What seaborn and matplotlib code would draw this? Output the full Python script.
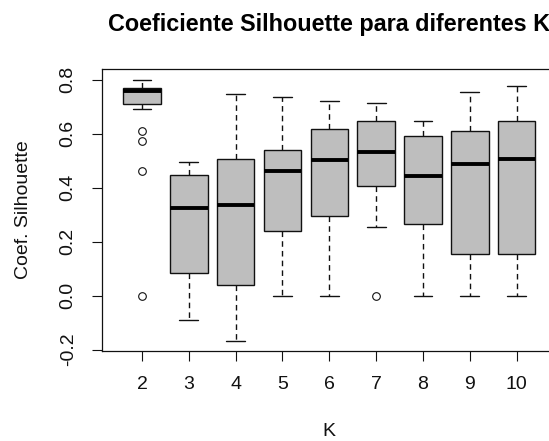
import matplotlib
matplotlib.use("Agg")
import matplotlib.pyplot as plt
import seaborn as sns

# ---- data (five-number summaries per K) ----
k_labels = ["2", "3", "4", "5", "6", "7", "8", "9", "10"]
whisker_low = [0.693, -0.090, -0.167, 0.000, 0.000, 0.253, 0.000, 0.000, 0.000]
q1 = [0.712, 0.084, 0.038, 0.238, 0.297, 0.407, 0.265, 0.154, 0.154]
median = [0.757, 0.323, 0.337, 0.462, 0.502, 0.532, 0.443, 0.488, 0.506]
q3 = [0.769, 0.448, 0.506, 0.538, 0.617, 0.648, 0.590, 0.609, 0.648]
whisker_high = [0.800, 0.497, 0.747, 0.737, 0.723, 0.715, 0.648, 0.754, 0.778]
outliers = [[0.0, 0.462, 0.573, 0.609], [], [], [], [], [0.0], [], [], []]
y_ticks = [-0.2, 0.0, 0.2, 0.4, 0.6, 0.8]
y_tick_labels = ["-0.2", "0.0", "0.2", "0.4", "0.6", "0.8"]

title = "Coeficiente Silhouette para diferentes K"
x_label = "K"
y_label = "Coef. Silhouette"

sns.set_theme(style="white")
plt.rcParams["font.family"] = ["Liberation Sans", "DejaVu Sans"]

fig = plt.figure(figsize=(5.49, 4.41), dpi=100)
ax = fig.add_axes([0.1852, 0.2041, 0.8293, 0.6395])

stats = []
for i, lab in enumerate(k_labels):
    stats.append(dict(label=lab, whislo=whisker_low[i], q1=q1[i], med=median[i],
                      q3=q3[i], whishi=whisker_high[i], fliers=outliers[i]))

positions = list(range(1, len(k_labels) + 1))
ax.bxp(stats, positions=positions, widths=0.8, capwidths=0.4, patch_artist=True,
       boxprops=dict(facecolor="#BEBEBE", edgecolor="#111111", linewidth=1.0),
       medianprops=dict(color="black", linewidth=2.8, solid_capstyle="butt"),
       whiskerprops=dict(color="#111111", linewidth=1.0, linestyle=(0, (4, 3))),
       capprops=dict(color="#111111", linewidth=1.0),
       flierprops=dict(marker="o", markerfacecolor="none", markeredgecolor="#111111",
                       markersize=5.5, markeredgewidth=0.8))

ax.set_xlim(0.14, 9.86)
ax.set_ylim(-0.205, 0.840)
ax.set_xticks(positions)
ax.set_xticklabels(k_labels, fontsize=14, color="#111111")
ax.set_yticks(y_ticks)
ax.set_yticklabels(y_tick_labels, fontsize=14, rotation=90, va="center", color="#111111")
ax.tick_params(axis="both", direction="out", length=7.5, width=0.8, color="#111111", pad=10.5,
               bottom=True, left=True)

for s in ax.spines.values():
    s.set_color("#111111")
    s.set_linewidth(0.9)
    s.set_visible(True)

ax.set_title(title, fontsize=16.8, fontweight="bold", pad=27.5, color="black")
ax.set_xlabel(x_label, fontsize=14, color="#111111")
ax.set_ylabel(y_label, fontsize=14, color="#111111")
ax.xaxis.set_label_coords(0.5, -0.257)
ax.yaxis.set_label_coords(-0.153, 0.5)
ax.grid(False)

fig.savefig("out.png", dpi=100)
